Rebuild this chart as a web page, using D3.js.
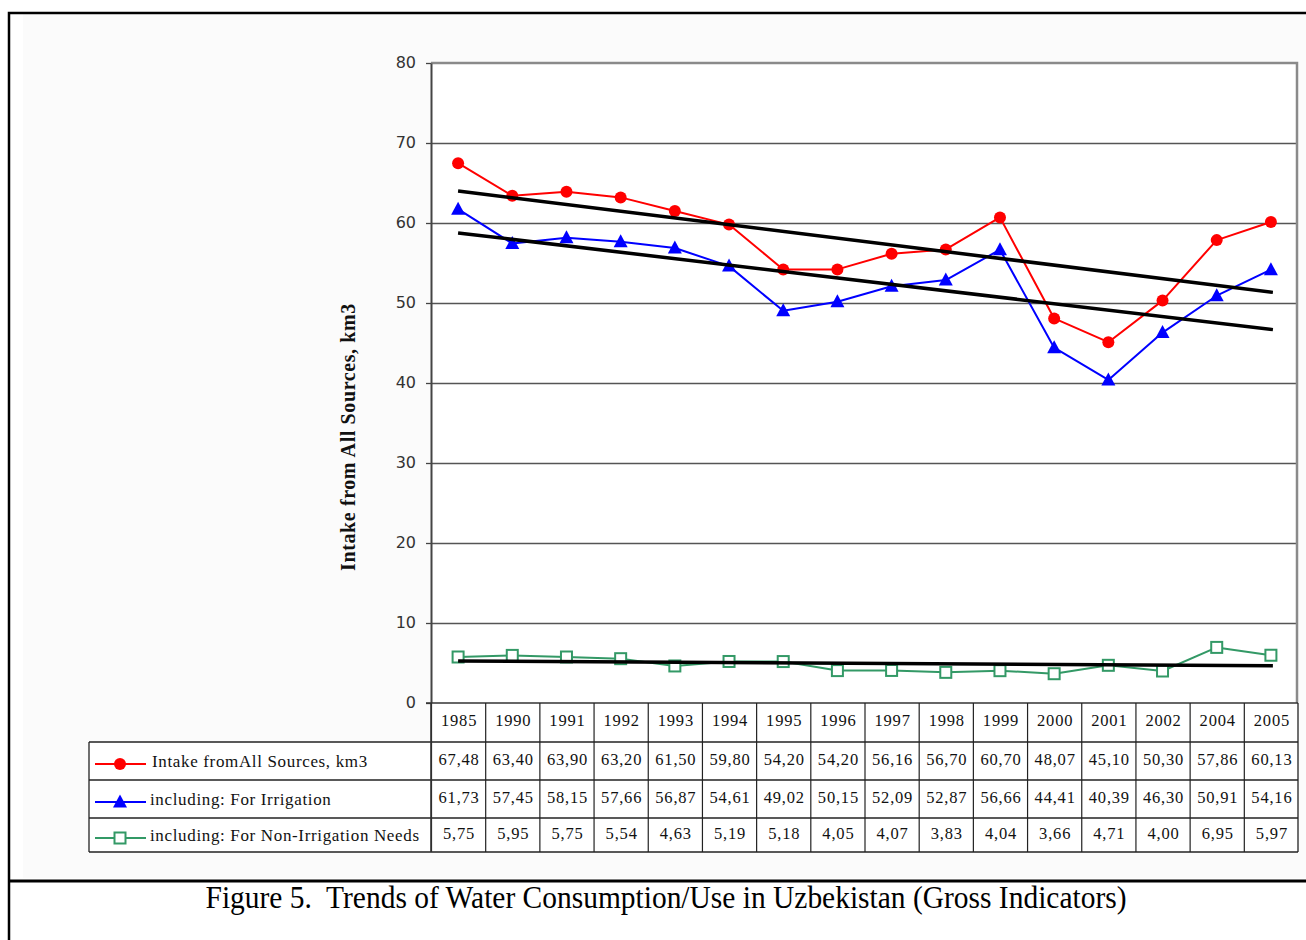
<!DOCTYPE html>
<html>
<head>
<meta charset="utf-8">
<script src="https://cdn.jsdelivr.net/npm/d3@7"></script>
<style>
  html, body { margin: 0; padding: 0; background: #ffffff; }
  svg { display: block; }
</style>
</head>
<body>
<svg id="chart" width="1306" height="940"></svg>
<script>
// Water intake in Uzbekistan, km3 per year
const years = ["1985", "1990", "1991", "1992", "1993", "1994", "1995", "1996",
               "1997", "1998", "1999", "2000", "2001", "2002", "2004", "2005"];
const totalIntake    = [67.48, 63.40, 63.90, 63.20, 61.50, 59.80, 54.20, 54.20,
                        56.16, 56.70, 60.70, 48.07, 45.10, 50.30, 57.86, 60.13];
const irrigation     = [61.73, 57.45, 58.15, 57.66, 56.87, 54.61, 49.02, 50.15,
                        52.09, 52.87, 56.66, 44.41, 40.39, 46.30, 50.91, 54.16];
const nonIrrigation  = [5.75, 5.95, 5.75, 5.54, 4.63, 5.19, 5.18, 4.05,
                        4.07, 3.83, 4.04, 3.66, 4.71, 4.00, 6.95, 5.97];
const seriesNames = ["Intake fromAll Sources, km3",
                     "including: For Irrigation",
                     "including: For Non-Irrigation Needs"];
const yTicks = [0, 10, 20, 30, 40, 50, 60, 70, 80];
const yTitle = "Intake from All Sources, km3";
const caption = "Figure 5.  Trends of Water Consumption/Use in Uzbekistan (Gross Indicators)";

const series = [
  { name: seriesNames[0], values: totalIntake,   color: "#ff0000", marker: "circle" },
  { name: seriesNames[1], values: irrigation,    color: "#0000ff", marker: "triangle" },
  { name: seriesNames[2], values: nonIrrigation, color: "#339966", marker: "square" }
];

const svg = d3.select("#chart");

// page frame and chart background
svg.append("rect").attr("x", 23).attr("y", 14).attr("width", 1283).attr("height", 864)
  .attr("fill", "#fbfbfb");
svg.append("path").attr("d", "M9,940 V13 H1306").attr("fill", "none")
  .attr("stroke", "#000").attr("stroke-width", 2.5);
svg.append("line").attr("x1", 9).attr("x2", 1306).attr("y1", 881).attr("y2", 881)
  .attr("stroke", "#000").attr("stroke-width", 3);

const plot = { left: 431, right: 1298, top: 63, bottom: 703 };
const x = d3.scaleBand().domain(years).range([plot.left, plot.right]);
const cx = d => x(d) + x.bandwidth() / 2;
const y = d3.scaleLinear().domain([0, 80]).range([plot.bottom, plot.top]);

// plot area
svg.append("rect").attr("x", plot.left).attr("y", plot.top)
  .attr("width", plot.right - plot.left).attr("height", plot.bottom - plot.top)
  .attr("fill", "#ffffff");

// gridlines
svg.append("g")
  .attr("transform", `translate(${plot.left},0)`)
  .call(d3.axisLeft(y).tickValues(yTicks.filter(t => t > 0 && t < 80))
    .tickSize(-(plot.right - plot.left)).tickFormat(""))
  .call(g => g.select(".domain").remove())
  .call(g => g.selectAll("line").attr("stroke", "#555").attr("stroke-width", 1.3));

// plot border (top / right)
svg.append("path")
  .attr("d", `M${plot.left},${plot.top} H${plot.right - 1} V${plot.bottom}`)
  .attr("fill", "none").attr("stroke", "#8a8a8a").attr("stroke-width", 2.5);

// y axis
svg.append("g")
  .attr("transform", `translate(${plot.left},0)`)
  .call(d3.axisLeft(y).tickValues(yTicks).tickSize(5).tickSizeOuter(0).tickPadding(10))
  .call(g => g.select(".domain").attr("stroke", "#444").attr("stroke-width", 2))
  .call(g => g.selectAll(".tick line").attr("stroke", "#444").attr("stroke-width", 1.3))
  .call(g => g.selectAll(".tick text")
    .attr("font-family", "DejaVu Sans, Verdana, sans-serif")
    .attr("font-size", 16).attr("fill", "#333").attr("dy", "0.3em"));

svg.append("text")
  .attr("transform", "translate(355,437) rotate(-90)")
  .attr("text-anchor", "middle")
  .attr("font-family", "Liberation Serif, Times New Roman, serif")
  .attr("font-weight", "bold").attr("font-size", 20).attr("letter-spacing", 0.6)
  .attr("fill", "#111")
  .text(yTitle);

// linear trend lines (least squares over the category index)
function trend(values) {
  const n = values.length;
  const xs = d3.range(n);
  const mx = d3.mean(xs), my = d3.mean(values);
  const b = d3.sum(xs, i => (i - mx) * (values[i] - my)) / d3.sum(xs, i => (i - mx) ** 2);
  const a = my - b * mx;
  return [a, a + b * (n - 1)];
}

// series lines
const line = d3.line().x((v, i) => cx(years[i])).y(v => y(v));
series.forEach(s => {
  svg.append("path").datum(s.values).attr("d", line)
    .attr("fill", "none").attr("stroke", s.color).attr("stroke-width", 2)
    .attr("stroke-linejoin", "round");
});

function drawMarker(g, type, color, px, py) {
  if (type === "circle") {
    g.append("circle").attr("cx", px).attr("cy", py).attr("r", 6).attr("fill", color);
  } else if (type === "triangle") {
    g.append("path").attr("d", `M${px},${py - 7.5} L${px + 7},${py + 5.5} L${px - 7},${py + 5.5} Z`)
      .attr("fill", color);
  } else {
    g.append("rect").attr("x", px - 5.5).attr("y", py - 5.5).attr("width", 11).attr("height", 11)
      .attr("fill", "#ffffff").attr("stroke", color).attr("stroke-width", 2);
  }
}

series.forEach(s => {
  const g = svg.append("g");
  s.values.forEach((v, i) => drawMarker(g, s.marker, s.color, cx(years[i]), y(v)));
});

// trend lines on top
series.forEach(s => {
  const [t0, t1] = trend(s.values);
  svg.append("line")
    .attr("x1", cx(years[0])).attr("y1", y(t0))
    .attr("x2", cx(years[years.length - 1]) + 2).attr("y2", y(t1))
    .attr("stroke", "#000").attr("stroke-width", 3.5);
});

// data table
const table = { left: 89, rows: [742, 780, 818, 852] };
const fmt = v => d3.format(".2f")(v).replace(".", ",");
const tableFont = "Liberation Serif, Times New Roman, serif";
const tg = svg.append("g");

tg.append("rect").attr("x", table.left).attr("y", table.rows[0])
  .attr("width", plot.left - table.left).attr("height", table.rows[3] - table.rows[0])
  .attr("fill", "#ffffff");
tg.append("rect").attr("x", plot.left).attr("y", plot.bottom)
  .attr("width", plot.right - plot.left).attr("height", table.rows[3] - plot.bottom)
  .attr("fill", "#ffffff");

// horizontal rules
table.rows.forEach(ry => {
  tg.append("line").attr("x1", table.left).attr("x2", plot.right)
    .attr("y1", ry).attr("y2", ry).attr("stroke", "#222").attr("stroke-width", 1.3);
});
tg.append("line").attr("x1", plot.left - 5).attr("x2", plot.right)
  .attr("y1", plot.bottom).attr("y2", plot.bottom).attr("stroke", "#333").attr("stroke-width", 1.6);
// vertical rules
tg.append("line").attr("x1", table.left).attr("x2", table.left)
  .attr("y1", table.rows[0]).attr("y2", table.rows[3]).attr("stroke", "#222").attr("stroke-width", 1.3);
years.forEach(yr => {
  tg.append("line").attr("x1", x(yr) + 0.5).attr("x2", x(yr) + 0.5)
    .attr("y1", plot.bottom).attr("y2", table.rows[3]).attr("stroke", "#222").attr("stroke-width", 1.2);
});
tg.append("line").attr("x1", plot.left).attr("x2", plot.left)
  .attr("y1", plot.bottom).attr("y2", table.rows[3]).attr("stroke", "#333").attr("stroke-width", 1.6);
tg.append("line").attr("x1", plot.right).attr("x2", plot.right)
  .attr("y1", plot.bottom).attr("y2", table.rows[3]).attr("stroke", "#222").attr("stroke-width", 1.3);

// header years
years.forEach(yr => {
  tg.append("text").attr("x", cx(yr) + 1).attr("y", (plot.bottom + table.rows[0]) / 2 + 3)
    .attr("text-anchor", "middle").attr("font-family", tableFont).attr("font-size", 16.5)
    .attr("letter-spacing", 0.8).attr("fill", "#111").text(yr);
});

// series rows
series.forEach((s, r) => {
  const my = (table.rows[r] + table.rows[r + 1]) / 2;
  s.values.forEach((v, i) => {
    tg.append("text").attr("x", cx(years[i]) + 1).attr("y", my + 4)
      .attr("text-anchor", "middle").attr("font-family", tableFont).attr("font-size", 16.5)
      .attr("letter-spacing", 0.8).attr("fill", "#111").text(fmt(v));
  });
  // legend key
  const ky = my + 3;
  tg.append("line").attr("x1", 95).attr("x2", 146).attr("y1", ky).attr("y2", ky)
    .attr("stroke", s.color).attr("stroke-width", 2);
  drawMarker(tg, s.marker, s.color, 120, ky);
  tg.append("text").attr("x", r === 0 ? 152 : 150).attr("y", my + 6)
    .attr("font-family", tableFont).attr("font-size", 17).attr("letter-spacing", 0.65)
    .attr("fill", "#111").text(s.name);
});

// caption
svg.append("text")
  .attr("x", 666).attr("y", 908).attr("text-anchor", "middle")
  .style("white-space", "pre")
  .attr("font-family", "Liberation Serif, Times New Roman, serif")
  .attr("font-size", 31).attr("fill", "#000")
  .attr("textLength", 921).attr("lengthAdjust", "spacingAndGlyphs")
  .text(caption);
</script>
</body>
</html>
